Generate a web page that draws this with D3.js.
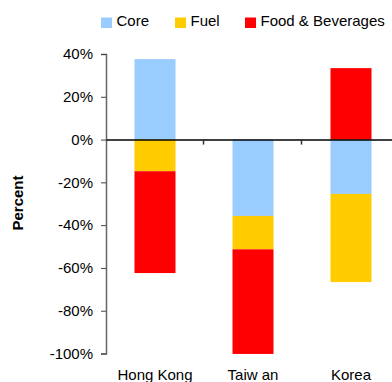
<!DOCTYPE html>
<html>
<head>
<meta charset="utf-8">
<script src="https://cdn.jsdelivr.net/npm/d3@7"></script>
<style>
  html, body { margin: 0; padding: 0; background: #fff; }
  svg { display: block; font-family: "Liberation Sans", Arial, sans-serif; }
</style>
</head>
<body>
<div id="chart"></div>
<script>
const categories = ['Hong Kong', 'Taiw an', 'Korea'];
const seriesNames = ['Core', 'Fuel', 'Food & Beverages'];
const core = [37.6, -35.7, -25.4];
const fuel = [-14.8, -15.6, -41.2];
const food = [-47.6, -48.9, 33.4];
const yTicks = [40, 20, 0, -20, -40, -60, -80, -100];
const colors = ['#99ccff', '#ffcc00', '#ff0000'];

const width = 392, height = 382;
const axisX = 106;

const rows = categories.map((c, i) => ({
  name: c, 'Core': core[i], 'Fuel': fuel[i], 'Food & Beverages': food[i]
}));

const stack = d3.stack().keys(seriesNames).offset(d3.stackOffsetDiverging);
const layers = stack(rows);

const svg = d3.select('#chart').append('svg')
  .attr('width', width)
  .attr('height', height);

const yScale = d3.scaleLinear().domain([-100, 40]).range([353.5, 54]);
const xScale = d3.scaleBand().domain(categories).range([axisX, 400]).padding(0);
const barW = 41;

// bars
svg.append('g').selectAll('g')
  .data(layers)
  .enter().append('g')
  .attr('fill', (d, i) => colors[i])
  .selectAll('rect')
  .data(d => d)
  .enter().append('rect')
  .attr('x', d => xScale(d.data.name) + (xScale.bandwidth() - barW) / 2)
  .attr('y', d => yScale(Math.max(d[0], d[1])))
  .attr('width', barW)
  .attr('height', d => Math.abs(yScale(d[0]) - yScale(d[1])));

// y axis
const yAxis = svg.append('g')
  .attr('transform', 'translate(' + axisX + ',0)')
  .call(d3.axisLeft(yScale).tickValues(yTicks).tickSize(5).tickPadding(8)
    .tickFormat(d => d + '%'));
yAxis.select('.domain').attr('stroke', '#666').attr('stroke-width', 1.5);
yAxis.selectAll('.tick line').attr('stroke', '#444');
yAxis.selectAll('text')
  .attr('fill', '#000')
  .style('font-size', '15px')
  .style('font-family', '"Liberation Sans", Arial, sans-serif');

// zero line with category ticks
const xAxis = svg.append('g')
  .attr('transform', 'translate(0,' + yScale(0) + ')')
  .call(d3.axisBottom(xScale).tickSize(0).tickFormat(''));
xAxis.select('.domain').attr('stroke', '#000').attr('stroke-width', 1.5);
xAxis.selectAll('.sep')
  .data(categories.slice(1))
  .enter().append('line')
  .attr('class', 'sep')
  .attr('x1', d => xScale(d) - 0.5)
  .attr('x2', d => xScale(d) - 0.5)
  .attr('y1', 0)
  .attr('y2', 5)
  .attr('stroke', '#333')
  .attr('stroke-width', 1.5);

// category labels at bottom
svg.append('g').selectAll('text')
  .data(categories)
  .enter().append('text')
  .attr('x', d => xScale(d) + xScale.bandwidth() / 2)
  .attr('y', 380)
  .attr('text-anchor', 'middle')
  .style('font-size', '15px')
  .text(d => d);

// y title
svg.append('text')
  .attr('transform', 'translate(23,203) rotate(-90)')
  .attr('text-anchor', 'middle')
  .style('font-size', '15px')
  .style('font-weight', 'bold')
  .text('Percent');

// legend
const legendX = [101, 175, 245];
const legend = svg.append('g').selectAll('g')
  .data(seriesNames)
  .enter().append('g')
  .attr('transform', (d, i) => 'translate(' + legendX[i] + ',16)');
legend.append('rect')
  .attr('width', 11)
  .attr('height', 10.5)
  .attr('y', 1.5)
  .attr('fill', (d, i) => colors[i]);
legend.append('text')
  .attr('x', 15.5)
  .attr('y', 10)
  .style('font-size', '15px')
  .text(d => d);
</script>
</body>
</html>
